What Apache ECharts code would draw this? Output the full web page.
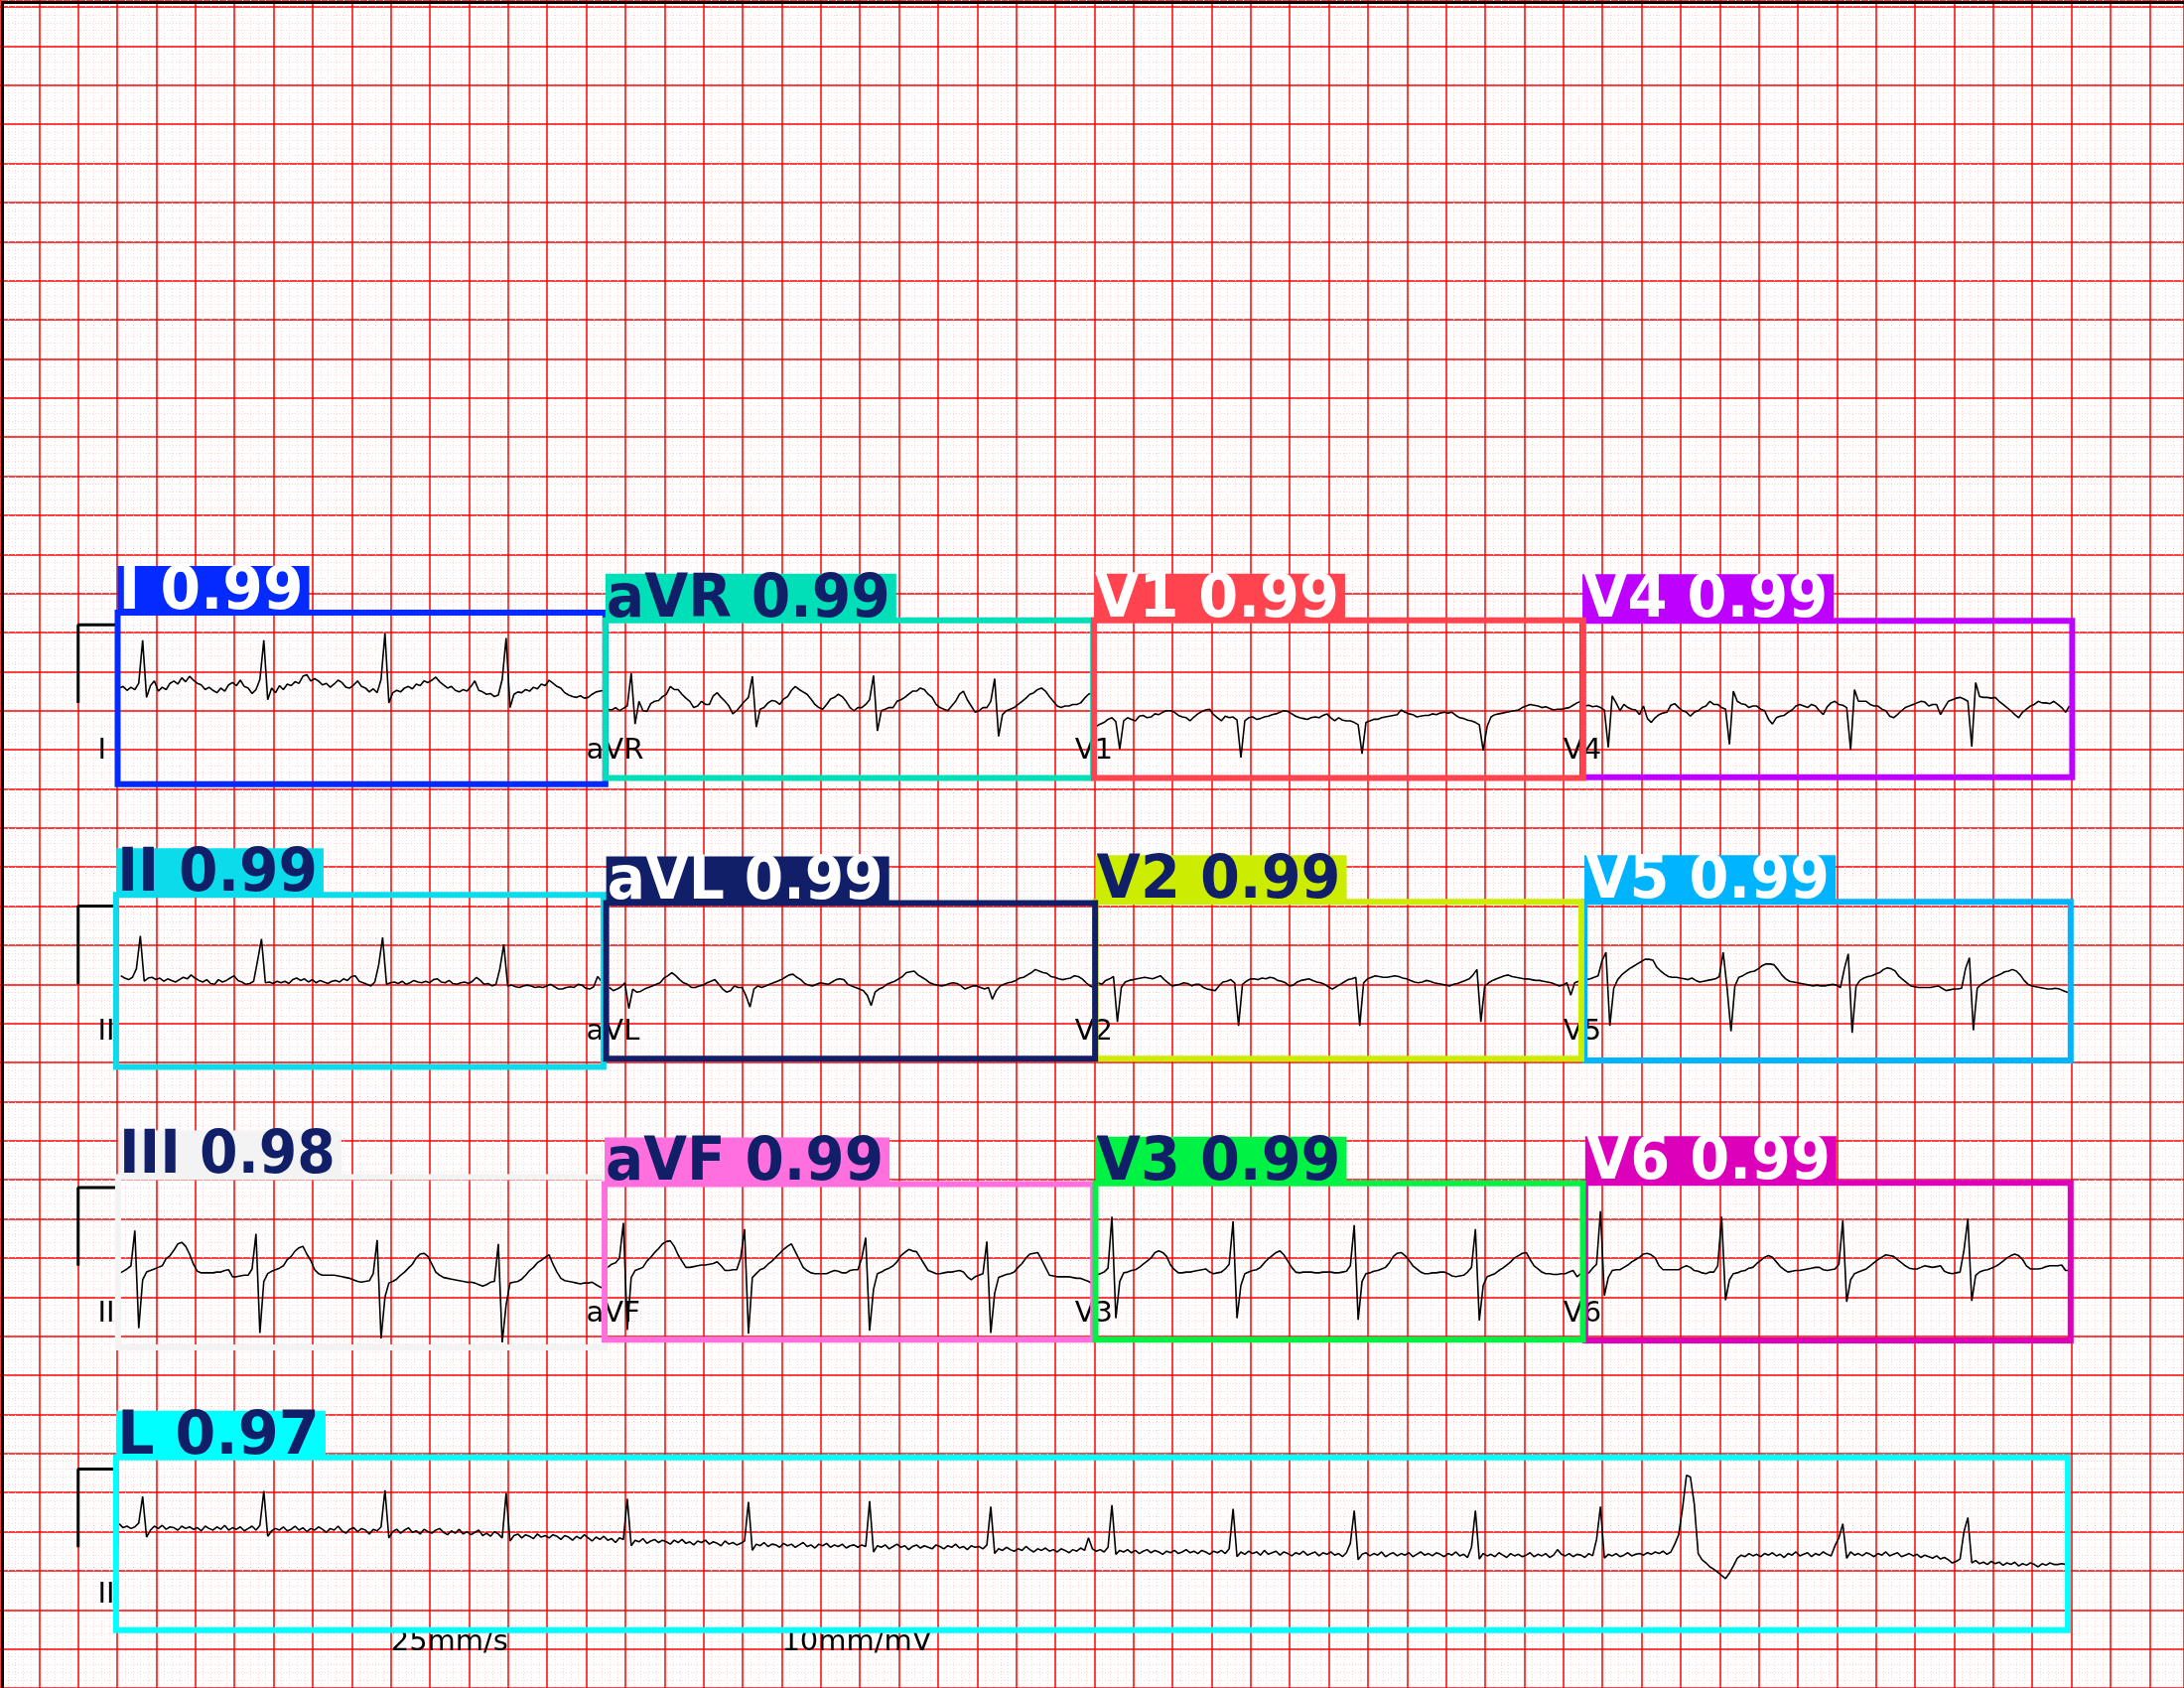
<!DOCTYPE html>
<html><head><meta charset="utf-8">
<script src="https://cdn.jsdelivr.net/npm/echarts@6/dist/echarts.min.js"></script>
<style>html,body{margin:0;padding:0;background:#fff}#c{width:2200px;height:1700px}</style>
</head><body><div id="c"></div>
<script>
// ================= DATA =================
// sampling of every trace: one value every 0.02 s, values in 0.01 mV (relative to the row's calibration baseline)
const sampleStep = 0.02;
const rowStartTime = [0.01, 0.018, 0.01, 0.01];

const leadNames = ['I','aVR','V1','V4','II','aVL','V2','V5','III','aVF','V3','V6'];
const rhythmName = 'II';

const leadI = [19,21,16,20,17,25,80,7,22,28,15,20,17,25,28,24,32,27,34,29,25,23,17,20,16,13,19,15,23,26,22,29,21,19,12,17,30,80,4,19,13,22,17,24,22,27,25,34,36,28,31,28,23,25,20,24,29,26,20,19,23,28,21,19,14,18,13,30,89,0,13,16,14,19,21,18,24,22,28,26,29,33,27,23,19,21,16,14,17,15,21,28,16,14,11,12,8,10,30,83,-6,11,14,13,17,15,20,18,24,22,29,25,21,19,13,10,8,7,9,6,7,11,14,15,16];
const leadAVR = [-8,-9,-6,-10,-7,-4,38,-27,2,-10,-11,-1,2,3,8,11,21,17,17,11,6,2,-6,-4,2,-2,-2,9,13,7,2,-4,-14,-10,-4,2,7,34,-31,-8,-6,0,3,2,-2,5,8,16,21,17,14,11,5,-2,-6,-8,-2,5,7,11,8,2,-6,-10,-6,-6,-2,4,35,-36,-10,-8,-6,-6,2,4,7,11,15,15,19,17,11,7,-2,-6,-8,-10,-4,2,11,15,4,-4,-12,-10,-6,-6,2,31,-43,-15,-10,-8,-6,-2,2,6,11,13,17,19,15,8,2,-4,-6,-4,-4,-2,-2,0,6,11,13];
const leadV1 = [-30,-27,-25,-21,-19,-24,-59,-23,-19,-21,-23,-17,-16,-19,-18,-14,-15,-12,-10,-10,-12,-16,-18,-19,-23,-18,-14,-11,-9,-8,-15,-19,-23,-17,-19,-18,-22,-70,-23,-19,-18,-21,-20,-18,-17,-15,-14,-12,-10,-11,-14,-17,-19,-20,-21,-19,-18,-19,-16,-14,-19,-23,-19,-22,-23,-23,-25,-28,-65,-25,-23,-21,-21,-19,-18,-17,-16,-15,-9,-12,-14,-15,-18,-17,-16,-16,-14,-15,-13,-12,-13,-12,-16,-19,-20,-22,-23,-25,-28,-61,-30,-18,-15,-14,-13,-12,-11,-10,-9,-6,-4,-2,-3,-4,-6,-5,-7,-9,-8,-8,-7,-6,-3,0,2];
const leadV4 = [-4,-3,-5,-4,-6,-9,-57,9,0,-10,-2,-6,-8,-9,-15,-4,-20,-25,-19,-15,-13,-12,-3,-1,-6,-10,-12,-17,-12,-10,-6,-4,2,-2,-2,-6,-8,-53,15,2,-1,-2,-6,-4,-4,-8,-10,-21,-27,-19,-17,-16,-12,-9,-4,-2,-4,-6,-2,-4,-10,-15,-5,0,2,-2,-3,-6,-60,17,2,2,2,-2,-4,-4,-8,-10,-17,-19,-15,-10,-6,-4,-2,0,2,1,-4,-2,-2,-15,-6,2,4,6,7,5,2,-56,26,8,7,7,6,7,2,-2,-6,-10,-15,-19,-12,-8,-4,-2,2,0,0,-1,2,-2,-6,-12,-4];
const leadII = [11,8,6,9,20,62,4,8,9,6,8,4,7,5,3,6,9,7,12,8,5,3,6,1,0,6,3,5,8,11,5,3,0,1,4,30,58,2,3,1,4,2,4,1,6,8,5,7,3,6,2,5,3,1,4,5,3,7,5,10,11,4,2,0,-2,3,25,60,0,2,3,1,4,0,2,5,3,2,4,2,6,7,3,2,5,1,0,2,3,1,4,9,5,0,1,-2,0,20,51,-2,-1,-3,-4,-2,-1,-2,-4,-3,-4,-2,0,-3,-6,-6,-4,-3,-4,0,-1,-5,-6,-3,10,4,3];
const leadAVL = [-4,-8,-6,-3,2,-31,-6,-10,-9,-6,-4,-2,0,2,8,11,15,11,6,2,0,-4,-4,-2,-1,2,4,6,0,-6,-10,-8,-2,-4,-4,-15,-29,-6,-2,-4,-2,0,2,4,6,9,12,13,9,6,1,-1,-2,0,2,1,0,3,6,7,6,0,-2,-4,-6,-8,-14,-27,-10,-6,-4,0,2,4,7,10,15,16,17,12,9,6,2,0,-1,-2,-1,1,2,1,-2,-6,-4,-2,-2,-4,-6,-4,-19,-8,-2,0,2,3,5,8,9,12,15,19,17,15,14,10,9,7,6,7,8,11,10,7,2,-2,-4];
const leadV2 = [2,0,5,7,10,-48,-4,3,5,6,7,8,9,8,7,9,11,6,2,-2,-1,0,2,1,-2,0,0,-4,-6,-7,-8,-2,3,4,6,2,-53,0,4,7,7,6,8,7,9,8,5,4,2,-2,-1,3,5,6,7,5,3,2,0,-3,-6,-3,0,3,6,7,9,-53,2,7,9,11,10,9,9,10,11,10,8,7,5,3,2,3,5,4,2,1,0,-1,-2,0,1,3,5,7,12,19,-48,-2,2,5,7,9,11,12,10,9,8,7,7,6,5,5,4,3,2,0,-2,-1,2,-14,2,4,3];
const leadV5 = [6,7,9,11,30,41,-53,-5,6,12,16,20,23,26,29,32,32,31,22,17,13,10,9,9,8,7,6,8,5,3,4,5,6,7,10,41,-5,-60,-2,9,11,14,16,17,20,24,26,26,25,19,12,7,4,3,2,1,0,-1,-2,-1,-2,-2,-1,0,-1,-4,20,39,-62,-2,5,8,10,11,13,15,19,21,20,17,10,6,2,-2,-3,-4,-4,-4,-4,-3,-2,-5,-8,-7,-6,-6,-5,20,34,-59,-5,0,3,6,9,11,13,16,17,19,17,12,5,0,-2,-3,-4,-5,-6,-6,-5,-6,-8,-10,-12];
const leadIII = [-10,-7,-4,0,45,-80,-18,-8,-6,-4,-2,0,9,13,20,28,30,25,15,2,-7,-9,-9,-9,-9,-8,-8,-6,-5,-14,-14,-13,-12,-12,-4,41,-86,-20,-10,-7,-5,-3,0,8,12,19,23,25,15,7,-5,-10,-12,-12,-12,-12,-13,-14,-15,-16,-18,-20,-21,-20,-19,-10,33,-93,-40,-22,-20,-17,-12,-8,-3,2,10,15,16,12,2,-8,-12,-15,-16,-17,-18,-19,-20,-21,-21,-22,-24,-26,-24,-21,-20,28,-98,-50,-22,-21,-20,-17,-12,-6,-2,4,7,11,14,2,-8,-16,-19,-20,-21,-22,-23,-22,-22,-21,-24,-27,-29];
const leadAVF = [-2,2,4,10,55,-82,-15,-6,-4,-2,6,11,17,22,28,31,32,25,14,6,-2,-2,-1,0,1,1,2,3,5,0,-6,-6,-5,-5,10,47,-87,-15,-10,-5,-3,2,6,11,16,21,25,28,18,8,-2,-6,-9,-10,-10,-10,-10,-8,-6,-7,-9,-9,-6,-5,-5,10,36,-83,-30,-10,-8,-5,-3,0,5,13,17,21,19,18,10,2,-6,-8,-10,-10,-9,-8,-8,-7,-6,-8,-14,-18,-14,-12,-10,31,-86,-35,-15,-13,-11,-10,-8,-2,3,10,15,16,17,8,-2,-12,-13,-14,-14,-14,-14,-15,-16,-16,-18,-20,-23];
const leadV3 = [-12,-10,-8,-3,63,-67,-20,-9,-8,-6,-5,-2,2,6,10,17,19,17,12,1,-5,-9,-9,-8,-8,-7,-6,-5,-4,-8,-10,-9,-8,-4,2,57,-67,-25,-10,-8,-6,-5,-2,4,9,13,17,19,14,6,-2,-8,-9,-8,-8,-8,-9,-9,-8,-8,-8,-9,-9,-8,-7,0,52,-69,-20,-10,-9,-7,-6,-4,-2,4,12,16,17,13,7,0,-4,-8,-10,-10,-9,-9,-8,-8,-10,-13,-14,-13,-12,-8,-2,47,-70,-25,-14,-12,-10,-6,-3,1,5,10,13,16,17,8,0,-4,-8,-10,-10,-11,-11,-10,-10,-8,-6,-14,-10];
const leadV6 = [-8,-9,-3,2,70,-38,-15,-6,-5,-5,-2,1,5,8,11,15,16,14,10,0,-5,-5,-5,-5,-5,-2,0,-2,-6,-7,-9,-10,-8,-8,0,63,-44,-18,-10,-9,-7,-6,-3,-2,3,7,11,13,11,5,-1,-5,-8,-7,-6,-6,-5,-4,-3,-2,-2,-5,-6,-5,-4,2,58,-46,-18,-10,-8,-6,-4,0,4,8,11,14,13,12,8,4,0,-3,-4,-4,-2,0,-1,-2,-1,0,-7,-9,-10,-9,-8,20,60,-45,-12,-8,-6,-5,-3,-1,2,6,10,13,15,13,8,0,-4,-4,-4,-3,-1,0,0,0,1,-6,-6];
const rhythmII = [30,25,27,24,26,31,65,13,22,27,24,28,23,26,25,22,27,24,26,23,25,21,27,24,22,26,23,28,22,25,23,26,21,24,27,22,28,72,14,21,24,22,26,21,23,27,22,25,20,24,22,26,23,19,24,22,27,21,18,23,25,20,24,22,17,23,21,26,73,12,20,23,18,22,25,19,21,17,23,20,18,22,24,19,16,21,18,23,17,20,16,19,22,15,18,14,20,17,12,69,8,15,17,12,16,14,11,17,13,15,12,16,14,10,15,13,9,14,11,16,12,8,13,10,14,9,11,6,12,10,62,2,9,7,11,5,8,10,6,9,7,4,9,6,10,5,7,3,8,6,9,4,7,5,2,8,4,6,3,5,8,58,-4,4,2,6,1,4,3,0,5,2,4,0,3,6,1,3,-1,4,2,5,0,3,1,4,-1,2,3,0,3,1,59,-6,2,0,3,-2,1,4,0,2,-3,1,3,-1,2,0,-2,3,1,-2,2,0,4,-1,1,-3,2,0,1,-2,3,52,-8,-2,-4,0,-3,-5,-2,-4,1,-3,-6,-2,-4,-1,-5,-3,-6,-2,-4,-7,-3,-5,-1,-4,12,-2,-5,-3,-6,0,54,-9,-4,-6,-3,-7,-4,-8,-5,-3,-7,-4,-6,-9,-5,-7,-4,-8,-6,-3,-7,-5,-8,-4,-6,-9,-5,-7,-4,-8,-2,49,-12,-6,-9,-5,-8,-6,-10,-4,-9,-7,-5,-10,-6,-8,-11,-7,-9,-5,-10,-8,-6,-11,-7,-9,-6,-10,-8,-12,-7,5,47,-16,-9,-7,-11,-8,-10,-6,-12,-9,-7,-11,-8,-10,-7,-12,-9,-6,-10,-8,-11,-7,-9,-12,-8,-10,-6,-11,-9,-13,0,47,-15,-8,-11,-9,-12,-7,-10,-13,-8,-11,-9,-12,-10,-7,-12,-9,-11,-8,-13,-10,-3,-9,-11,-8,-12,-9,-10,-13,-8,-11,10,52,-14,-9,-11,-8,-12,-10,-7,-11,-9,-8,-10,-7,-9,-6,-8,-5,-9,-6,4,16,50,92,90,55,-8,-16,-20,-25,-28,-32,-36,-40,-33,-24,-14,-10,-12,-8,-11,-9,-12,-8,-10,-7,-11,-9,-13,-8,-10,-6,-11,-9,-7,-12,-8,-10,-6,-9,-11,2,12,30,-14,-6,-10,-8,-11,-7,-9,-12,-8,-10,-6,-11,-9,-7,-12,-10,-8,-11,-9,-13,-10,-12,-14,-11,-15,-13,-16,-20,-18,-15,20,38,-20,-17,-21,-19,-22,-18,-21,-19,-23,-20,-22,-19,-24,-21,-23,-20,-22,-25,-21,-23,-20,-22,-22,-21,-22,-22];

// detections (class, confidence, box [x1, yTop, x2, yBottom] in paper squares)
const detNames  = ['L','III','I','II','V4','V5','V6','aVR','V2','aVL','aVF','V1','V3'];
const detScores = [0.97,0.98,0.99,0.99,0.99,0.99,0.99,0.99,0.99,0.99,0.99,0.99,0.99];
const detBoxes  = [
  [2.97,5.90,52.91,1.48],
  [3.02,13.07,15.47,8.71],
  [3.01,27.51,15.49,23.12],
  [2.97,20.29,15.44,15.89],
  [40.49,27.30,53.02,23.30],
  [40.54,20.11,52.98,16.05],
  [40.56,12.92,52.98,8.89],
  [15.49,27.31,27.97,23.28],
  [28.03,20.11,40.46,16.10],
  [15.51,20.08,28.02,16.10],
  [15.47,12.89,27.97,8.91],
  [27.99,27.31,40.51,23.28],
  [28.03,12.91,40.50,8.91]
];
const footerTexts = ['25mm/s','10mm/mV'];

// ================= LAYOUT / STYLE =================
const PX = 39.37;                 // pixels per big square
const ROW_BASE = [25.2, 18.0, 10.8, 3.6];
const COL_X0 = 3, COL_W = 12.5, SQ_PER_S = 5, SQ_PER_MV = 2;
const LABEL_DY = -1.49;
const FOOTER_POS = [[10,0.9],[20,0.9]];
const DET_COLORS = {I:'#042AFF',II:'#0BDBEB',III:'#F3F3F3',aVR:'#00DFB7',aVL:'#111F68',aVF:'#FF6FDD',
  V1:'#FF444F',V2:'#CCED00',V3:'#00F344',V4:'#BD00FF',V5:'#00B4FF',V6:'#DD00BA',L:'#00FFFF'};
const DARK_TEXT_BG = ['II','III','aVR','aVF','V2','V3','L'];
const HERSHEY = {' ':16,'.':10,'0':20,'1':20,'2':20,'3':20,'4':20,'5':20,'6':20,'7':20,'8':20,'9':20,
  I:8,L:17,V:18,R:21,F:18,a:19};
const mctx = document.createElement('canvas').getContext('2d');
function tw(s, font){ mctx.font = font; return mctx.measureText(s).width; }
function hw(s){ let w=0; for (const c of s) w += (HERSHEY[c]||20); return w*2; }

function txt(x, y, text, size, fill, scaleX, weight){
  const font = (weight||'normal') + ' ' + size + 'px "DejaVu Sans"';
  return {type:'text', x:x, y:y - 0.346*size, scaleX: scaleX||1,
    style:{text:text, font: font, fill:fill, textFill:fill,
      align:'left', verticalAlign:'middle', textAlign:'left', textVerticalAlign:'middle'}};
}

const leadData = [leadI,leadAVR,leadV1,leadV4,leadII,leadAVL,leadV2,leadV5,leadIII,leadAVF,leadV3,leadV6];
const series = [];
function traceSeries(vals, row, col){
  const t0 = rowStartTime[row];
  return {type:'line', symbol:'none', silent:true, z:2, animation:false,
    lineStyle:{color:'#000', width:1.6},
    data: vals.map((v,k)=>[COL_X0 + col*COL_W + (t0 + k*sampleStep)*SQ_PER_S, ROW_BASE[row] + v/100*SQ_PER_MV])};
}
leadData.forEach((vals,i)=>series.push(traceSeries(vals, Math.floor(i/4), i%4)));
series.push(traceSeries(rhythmII, 3, 0));
// calibration pulses (1 mV)
ROW_BASE.forEach(b=>{
  series.push({type:'line', symbol:'none', silent:true, z:2, animation:false,
    lineStyle:{color:'#000', width:3},
    data:[[2,b],[2,b+SQ_PER_MV],[3,b+SQ_PER_MV],[3,b]]});
});
// lead labels
const labelItems = leadNames.map((n,i)=>[COL_X0 - 0.5 + (i%4)*COL_W, ROW_BASE[Math.floor(i/4)] + LABEL_DY]);
labelItems.push([COL_X0 - 0.5, ROW_BASE[3] + LABEL_DY]);
const labelTexts = leadNames.concat([rhythmName]);
series.push({type:'custom', z:3, silent:true, animation:false, data: labelItems,
  renderItem:(p, api)=>{ const c = api.coord([api.value(0), api.value(1)]); return txt(c[0], c[1], labelTexts[p.dataIndex], 29, '#000'); }});
series.push({type:'custom', z:3, silent:true, animation:false, data: FOOTER_POS,
  renderItem:(p, api)=>{ const c = api.coord([api.value(0), api.value(1)]); return txt(c[0], c[1], footerTexts[p.dataIndex], 29, '#000'); }});
// detections
series.push({type:'custom', z:5, silent:true, animation:false, data: detBoxes,
  encode:{x:[0,2], y:[1,3]},
  renderItem:(p, api)=>{
    const i = p.dataIndex, name = detNames[i];
    const label = name + ' ' + detScores[i].toFixed(2);
    const color = DET_COLORS[name];
    const tc = DARK_TEXT_BG.indexOf(name) >= 0 ? '#111F68' : '#FFFFFF';
    const a = api.coord([api.value(0), api.value(1)]);
    const b = api.coord([api.value(2), api.value(3)]);
    const font = 'bold 60px "DejaVu Sans"';
    const target = hw(label);
    const sx = (target - 2) / tw(label, font);
    return {type:'group', children:[
      {type:'rect', shape:{x:a[0], y:a[1], width:b[0]-a[0], height:b[1]-a[1]},
        style:{fill:'none', stroke:color, lineWidth:6, lineJoin:'miter'}},
      {type:'rect', shape:{x:a[0], y:a[1]-47, width:target+5, height:47}, style:{fill:color}},
      txt(a[0]+1, a[1]+1, label, 60, tc, sx, 'bold')
    ]};
  }});

const axisCommon = {type:'value', interval:1,
  axisLine:{show:false}, axisTick:{show:false}, axisLabel:{show:false},
  splitLine:{show:true, lineStyle:{color:'#ff0000', width:1.5}},
  minorTick:{show:false, splitNumber:5},
  minorSplitLine:{show:true, lineStyle:{color:'#ffd6d6', width:1, type:[1,2]}}};

const chart = echarts.init(document.getElementById('c'), null, {renderer:'canvas', width:2200, height:1700});
chart.setOption({
  animation:false,
  backgroundColor:'#ffffff',
  grid:{left:0, right:0, top:0, bottom:0, containLabel:false},
  xAxis:Object.assign({}, axisCommon, {min:0, max:2200/PX}),
  yAxis:Object.assign({}, axisCommon, {min:0, max:1700/PX}),
  graphic:{elements:[{type:'rect', left:0, top:0, z:100, silent:true,
    shape:{width:2200, height:1700}, style:{fill:'none', stroke:'#000', lineWidth:3}}]},
  series: series
});
</script></body></html>
